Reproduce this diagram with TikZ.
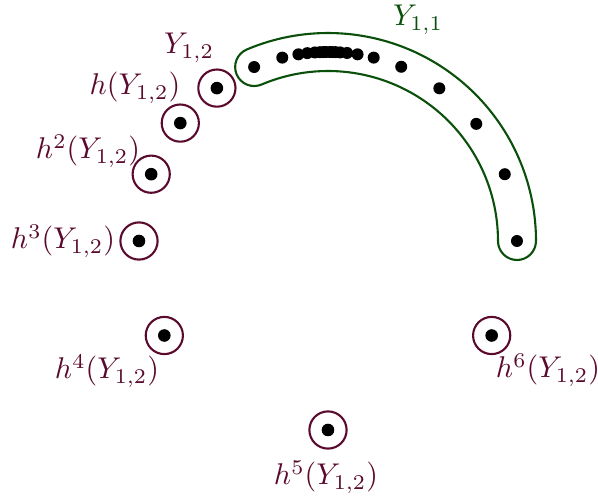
\documentclass[tikz,border=0pt]{standalone}
\definecolor{orbitred}{RGB}{90,10,45}
\definecolor{bandgreen}{RGB}{10,80,10}
\tikzset{
  orbit/.style={circle, draw=orbitred, line width=0.7pt, inner sep=0pt, minimum size=12.4pt},
  orbitlab/.style={text=orbitred},
  pt/.style={fill=black}
}
\begin{document}
\begin{tikzpicture}[x=0.3333pt, y=0.3333pt, line join=round, line cap=round]
				\useasboundingbox (-328,-256) rectangle (270,241);
				% the band Y_{1,1}
				\draw[bandgreen, line width=0.7pt] (0:208) arc (0:113:208) arc (113:293:19)
					arc (113:0:170) arc (180:360:19) -- cycle;
				\foreach \a in {0,20.7,38.3,53.9,67.2,76,81,84.2,86.3,87.7,88.7,89.4,90.6,91.3,92.4,94,96.3,99,104,113}
					\fill[pt] (\a:189) circle (2pt);
				\node[text=bandgreen] (yone) at (90,221) {$Y_{1,1}$};
				% the orbit of Y_{1,2}
				\foreach \n/\a in {p0/126, p1/141.4, p2/159.3, p3/180, p4/210, p5/270, p6/330} {
					\node[orbit] (\n) at (\a:189) {};
					\fill[pt] (\n) circle (2.1pt);
				}
				\node[orbitlab] (l0) at (-139,193) {$Y_{1,2}$};
				\node[orbitlab] (l1) at (-193,153) {$h(Y_{1,2})$};
				\node[orbitlab] (l2) at (-240,90) {$h^2(Y_{1,2})$};
				\node[orbitlab] (l3) at (-265,0) {$h^3(Y_{1,2})$};
				\node[orbitlab] (l4) at (-221,-130) {$h^4(Y_{1,2})$};
				\node[orbitlab] (l5) at (-2,-236) {$h^5(Y_{1,2})$};
				\node[orbitlab] (l6) at (220,-129) {$h^6(Y_{1,2})$};
\end{tikzpicture}
\end{document}
